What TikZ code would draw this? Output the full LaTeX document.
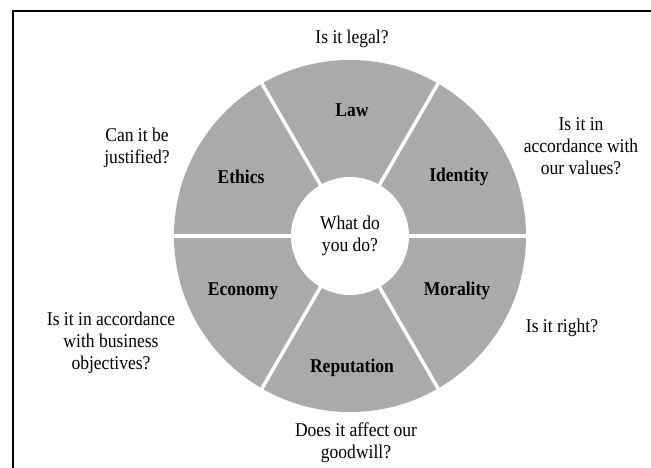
\documentclass[tikz,border=0pt]{standalone}
\usepackage{fontspec}
\setmainfont{Liberation Serif}[FakeStretch=0.9]
\definecolor{wheelgray}{RGB}{170,170,170}
\begin{document}
\begin{tikzpicture}[x=1pt,y=-1pt,
  q/.style={font=\fontsize{19.5}{21.8}\selectfont, align=center, inner sep=0pt},
  seg/.style={font=\fontsize{19.5}{21.8}\selectfont\bfseries, inner sep=0pt},
  gap/.style={white, line width=3.5pt},
  frame/.style={black, line width=2pt}]
\useasboundingbox (0,0) rectangle (651,468);
\draw[frame] (13,468) -- (13,11) -- (651,11);
\coordinate (c) at (350,236);
\fill[wheelgray] (c) circle (176);
\foreach \a in {0,60,...,300} \draw[gap] (c) -- ++(\a:180);
\node[circle, fill=white, minimum size=118pt, inner sep=0pt] (hub) at (c) {};
\node[q] (hubtext) at (c) {What do\\you do?};
\node[seg] (law) at (352,110) {Law};
\node[seg] (ethics) at (241,177) {Ethics};
\node[seg] (identity) at (459,177) {Identity};
\node[seg] (economy) at (243,291) {Economy};
\node[seg] (morality) at (457,291) {Morality};
\node[seg] (reputation) at (352,368) {Reputation};
\node[q] (qlaw) at (352,39) {Is it legal?};
\node[q] (qethics) at (137,148) {Can it be\\justified?};
\node[q] (qidentity) at (581,146) {Is it in\\accordance with\\our values?};
\node[q] (qeconomy) at (111,343) {Is it in accordance\\with business\\objectives?};
\node[q] (qmorality) at (562,328) {Is it right?};
\node[q] (qreputation) at (356,443) {Does it affect our\\goodwill?};
\end{tikzpicture}
\end{document}
